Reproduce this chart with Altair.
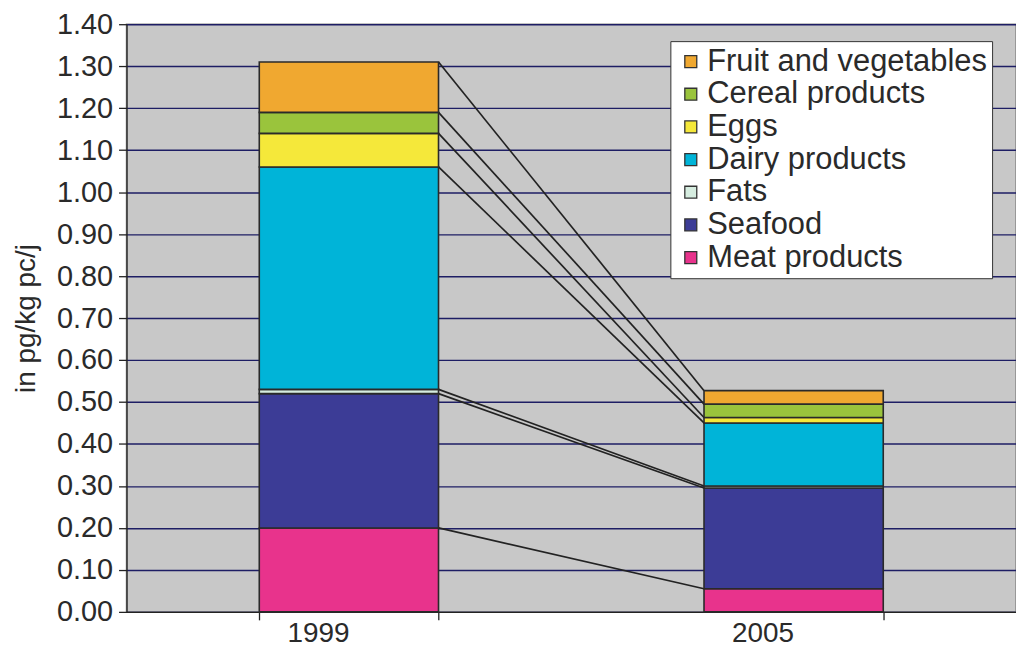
import altair as alt
import pandas as pd

years = ["1999", "2005"]
# stacking order: bottom -> top
categories = ["Meat products", "Seafood", "Fats", "Dairy products", "Eggs", "Cereal products", "Fruit and vegetables"]
values_1999 = [0.20, 0.32, 0.01, 0.53, 0.08, 0.05, 0.12]
values_2005 = [0.055, 0.24, 0.005, 0.15, 0.013, 0.032, 0.032]
colors = ["#e8338c", "#3c3c96", "#d6ede0", "#00b4d8", "#f5e83a", "#9ac43c", "#f0a830"]
legend_order = list(reversed(categories))
legend_colors = list(reversed(colors))
y_ticks = [round(i * 0.1, 2) for i in range(15)]

rows = []
for yr, vals in zip(years, [values_1999, values_2005]):
    for i, (c, v) in enumerate(zip(categories, vals)):
        rows.append({"year": yr, "category": c, "value": v, "order": i})
bars_df = pd.DataFrame(rows)

# connecting lines between cumulative tops
cum1 = pd.Series(values_1999).cumsum().tolist()
cum2 = pd.Series(values_2005).cumsum().tolist()
lines_df = pd.DataFrame({
    "from": [years[0]] * len(categories),
    "to": [years[1]] * len(categories),
    "y1": cum1,
    "y2": cum2,
    "category": categories,
})

font = "Liberation Sans"
grid_color = "#1e1e64"
text_color = "#2a2a2a"

x_scale = alt.Scale(domain=years, paddingInner=0.597, paddingOuter=0.2985)
y_scale = alt.Scale(domain=[0, 1.4], nice=False)

bars = alt.Chart(bars_df).mark_bar(stroke="#2a2a2a", strokeWidth=1.6).encode(
    x=alt.X("year:N", scale=x_scale, title=None,
            axis=alt.Axis(labelAngle=0, labelFontSize=28, labelFont=font, labelColor=text_color,
                          labelBaseline="alphabetic",
                          tickBand="extent", tickSize=8, tickColor="#222", domainColor="#222",
                          labelPadding=22, domainWidth=1.3, tickWidth=1.3)),
    y=alt.Y("value:Q", stack="zero", scale=y_scale, title="in pg/kg pc/j",
            axis=alt.Axis(values=y_ticks, format=".2f", labelFontSize=29, labelFont=font,
                          labelColor=text_color, titleFont=font, titleFontSize=28, titleFontWeight="normal",
                          titleColor=text_color, titlePadding=16, gridColor=grid_color, gridWidth=1.4,
                          tickColor="#222", domainColor="#222", tickSize=8, labelPadding=6,
                          domainWidth=1.3, tickWidth=1.3)),
    color=alt.Color("category:N", scale=alt.Scale(domain=legend_order, range=legend_colors),
                    title=None,
                    legend=alt.Legend(orient="none", legendX=546, legendY=17,
                                      labelFont=font, labelFontSize=31, labelColor=text_color,
                                      symbolType="square", symbolSize=144, symbolStrokeWidth=1.3,
                                      symbolStrokeColor="#333",
                                      fillColor="white", strokeColor="#333", padding=5,
                                      rowPadding=0.8, labelOffset=1, labelLimit=500)),
    order=alt.Order("order:Q"),
)

connect = alt.Chart(lines_df).mark_rule(color="#222", strokeWidth=1.7).encode(
    x=alt.X("from:N", scale=x_scale, bandPosition=1),
    x2=alt.X2("to:N", bandPosition=0),
    y=alt.Y("y1:Q", scale=y_scale),
    y2="y2:Q",
)

chart = alt.layer(connect, bars).properties(
    width=893, height=590,
    autosize=alt.AutoSizeParams(type="none"),
    padding={"left": 119, "top": 15, "right": 0, "bottom": 36},
).configure_view(fill="#c8c8c8", stroke="#888888", strokeWidth=1.5)

chart.save("out.html", embed_options={"renderer": "svg", "actions": False})
